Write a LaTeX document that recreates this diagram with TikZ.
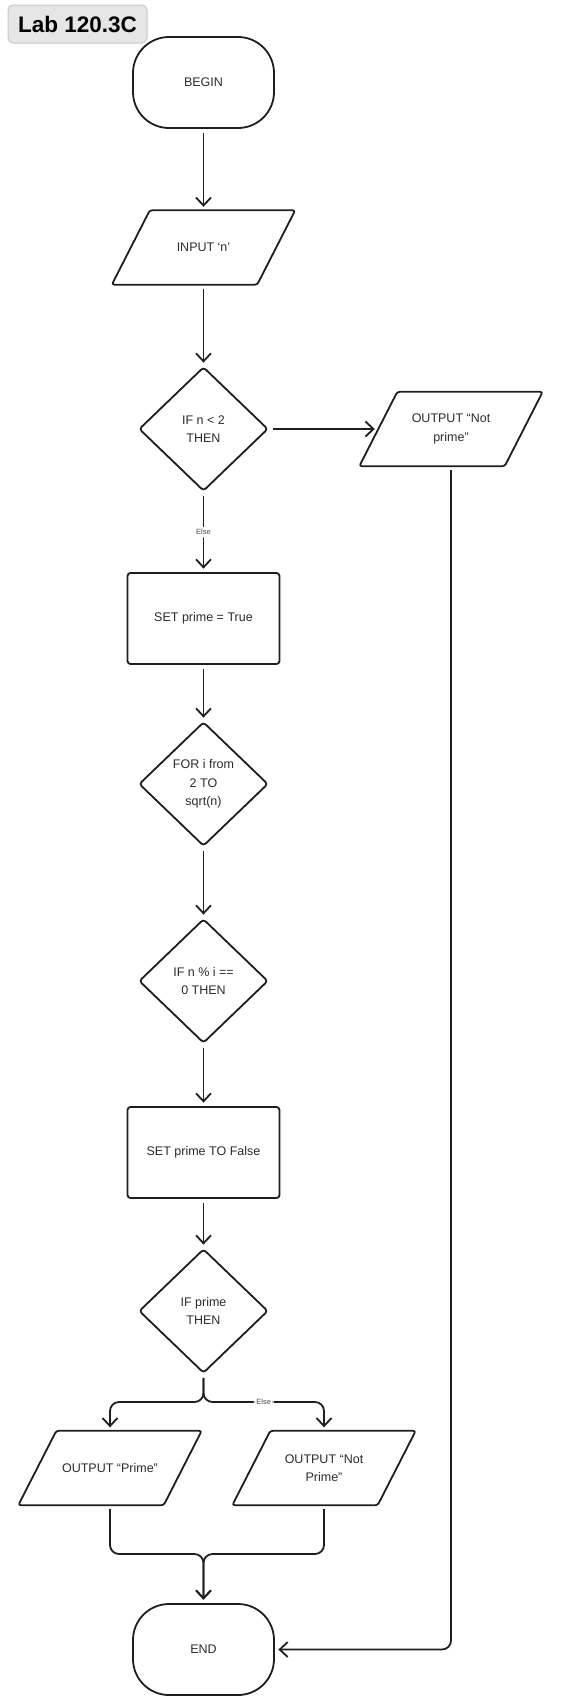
\documentclass[tikz,border=0pt]{standalone}
\usepackage{fontspec}
\setmainfont{Liberation Sans}
\usetikzlibrary{shapes.geometric,arrows.meta,calc}
\definecolor{ink}{HTML}{1E1E1E}
\definecolor{txt}{HTML}{2B2B2B}
\definecolor{titlefill}{HTML}{E6E6E6}
\definecolor{titleedge}{HTML}{C8C8C8}
\newcommand{\ioshape}[1]{\draw[boxline, rounded corners=2.5pt] ([xshift=19pt]#1.north west) -- ([xshift=19pt]#1.north east) -- ([xshift=-19pt]#1.south east) -- ([xshift=-19pt]#1.south west) -- cycle;}
\begin{document}
\begin{tikzpicture}[x=1pt,y=-1pt,
  every node/.style={text=txt, font=\fontsize{12.5}{18.5}\selectfont, align=center},
  boxline/.style={draw=ink, line width=1.8pt, line join=round},
  term/.style={boxline, rectangle, rounded corners=36pt, minimum width=141pt, minimum height=91pt, inner sep=0pt},
  proc/.style={boxline, rectangle, rounded corners=3pt, minimum width=152pt, minimum height=91pt, inner sep=0pt},
  dec/.style={boxline, diamond, rounded corners=3pt, minimum width=129pt, minimum height=124pt, inner sep=0pt},
  iobody/.style={rectangle, minimum width=145pt, minimum height=74pt, inner sep=0pt},
  conn/.style={draw=ink, line width=1.8pt, line join=round, -{Straight Barb[length=8pt,width=15pt]}, shorten <=4pt, shorten >=3.5pt, rounded corners=9pt},
  lbl/.style={fill=white, font=\fontsize{7.5}{9}\selectfont, text=txt!85, inner sep=2.5pt},
  titlebox/.style={draw=titleedge, fill=titlefill, line width=1pt, rounded corners=5pt, minimum width=139pt, minimum height=38pt, inner sep=0pt, text=black, font=\fontsize{22.5}{26}\selectfont\bfseries}
]
\useasboundingbox (0,0) rectangle (564,1706);

\node[titlebox] (title) at (77.5,24) {Lab 120.3C};

\node[term] (begin) at (203.5,82.5) {BEGIN};
\node[iobody] (input) at (203.5,247.5) {INPUT ‘n’};
\ioshape{input}
\node[dec] (d1) at (203.5,429) {IF n < 2\\THEN};
\node[iobody] (np1) at (451,429) {OUTPUT “Not\\prime”};
\ioshape{np1}
\node[proc] (set1) at (203.5,618.5) {SET prime = True};
\node[dec] (for) at (203.5,784) {FOR i from\\2 TO\\sqrt(n)};
\node[dec] (mod) at (203.5,981) {IF n \% i ==\\0 THEN};
\node[proc] (setf) at (203.5,1152.5) {SET prime TO False};
\node[dec] (ifp) at (203.5,1311) {IF prime\\THEN};
\node[iobody] (pr) at (110,1468) {OUTPUT “Prime”};
\ioshape{pr}
\node[iobody] (np2) at (324,1468) {OUTPUT “Not\\Prime”};
\ioshape{np2}
\node[term] (end) at (203.5,1649.5) {END};

\coordinate (brk) at (203.5,1402);
\coordinate (mrg) at (203.5,1554);

\draw[conn] (begin.south) -- (input.north);
\draw[conn] (input.south) -- (d1.north);
\draw[conn] (d1.east) -- (np1.west);
\draw[conn] (d1.south) -- node[lbl]{Else} (set1.north);
\draw[conn] (set1.south) -- (for.north);
\draw[conn] (for.south) -- (mod.north);
\draw[conn] (mod.south) -- (setf.north);
\draw[conn] (setf.south) -- (ifp.north);
\draw[conn] (ifp.south) -- (brk) -| (pr.north);
\draw[conn] (ifp.south) -- (brk) -| node[lbl, pos=0.25]{Else} (np2.north);
\draw[conn] (pr.south) |- (mrg) -- (end.north);
\draw[conn] (np2.south) |- (mrg) -- (end.north);
\draw[conn] (np1.south) |- (end.east);
\end{tikzpicture}
\end{document}
